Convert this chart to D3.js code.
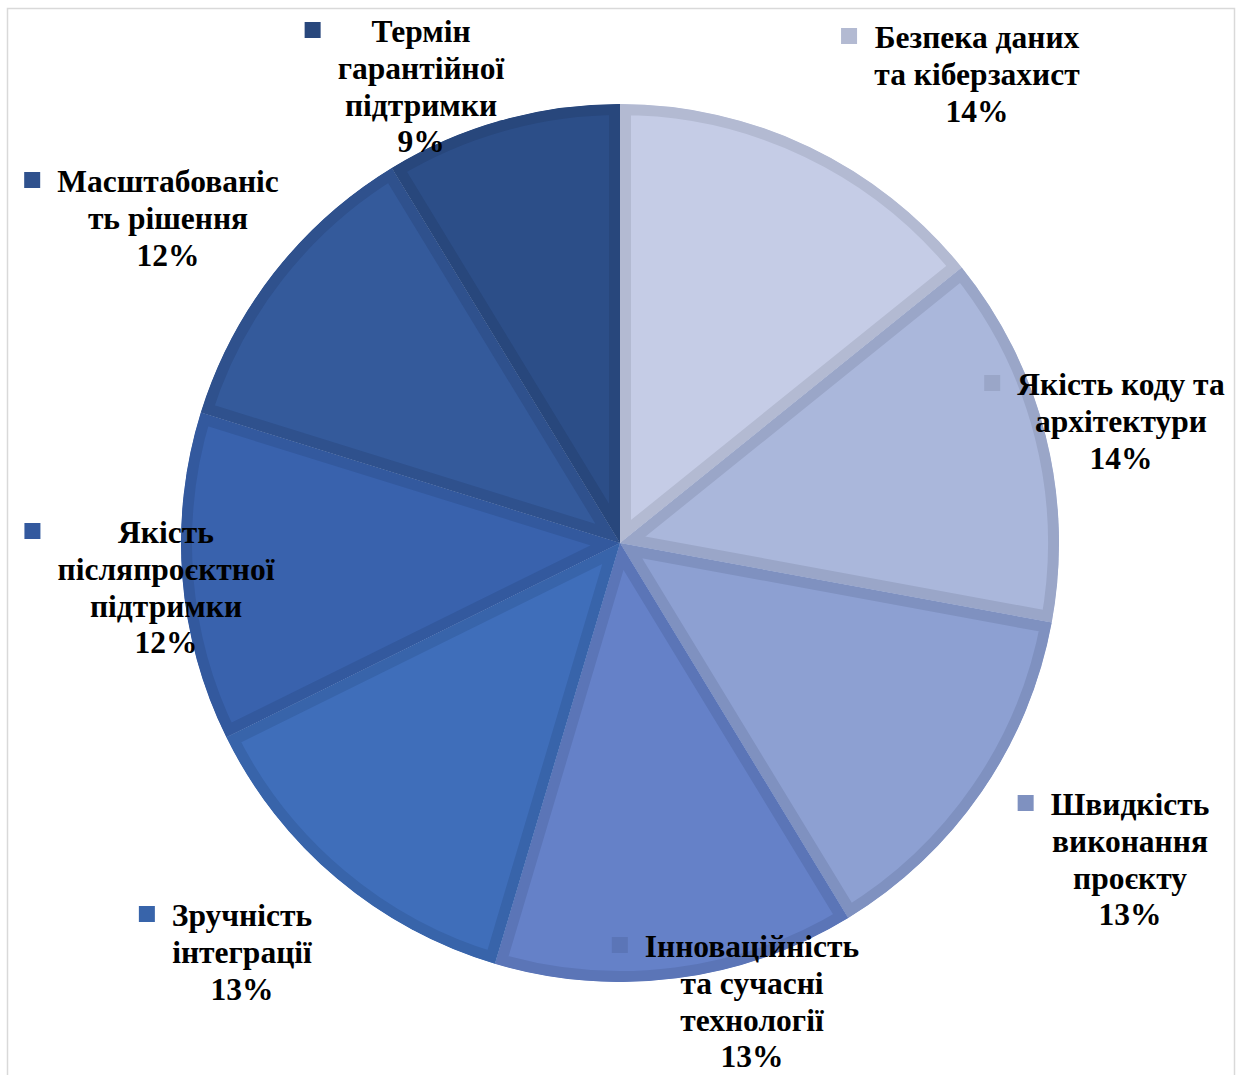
<!DOCTYPE html>
<html>
<head>
<meta charset="utf-8">
<script src="https://cdn.jsdelivr.net/npm/d3@7"></script>
<style>
  body { margin: 0; background: #fff; }
  text { font-family: "Liberation Serif", "Times New Roman", serif; font-weight: bold; }
</style>
</head>
<body>
<div id="chart"></div>
<script>
// data (clockwise from 12 o'clock)
const categories = [
    "Безпека даних та кіберзахист",
    "Якість коду та архітектури",
    "Швидкість виконання проєкту",
    "Інноваційність та сучасні технології",
    "Зручність інтеграції",
    "Якість післяпроєктної підтримки",
    "Масштабованість рішення",
    "Термін гарантійної підтримки"
];
const values = [14.2, 13.7, 13.4, 13.3, 13.1, 12.1, 11.5, 8.7];
const percentLabels = ["14%", "14%", "13%", "13%", "13%", "12%", "12%", "9%"];
// label lines as wrapped in the original
const labelLines = [
    ["Безпека даних", "та кіберзахист"],
    ["Якість коду та", "архітектури"],
    ["Швидкість", "виконання", "проєкту"],
    ["Інноваційність", "та сучасні", "технології"],
    ["Зручність", "інтеграції"],
    ["Якість", "післяпроєктної", "підтримки"],
    ["Масштабованіс", "ть рішення"],
    ["Термін", "гарантійної", "підтримки"]
];

const fills   = ["#c5cce6", "#aab7db", "#8da0d2", "#6581c8", "#3f6eba", "#3962ad", "#345a9b", "#2c4e88"];
const strokes = ["#b3bad2", "#9aa6c8", "#7f91c0", "#5b75b7", "#3864aa", "#33599e", "#2f518d", "#28477c"];

// label block layout: centre x, first baseline y
const labelPos = [
    [977, 48], [1121, 395], [1130, 815], [752, 957],
    [242, 926], [166, 543], [168, 192], [421, 42]
];

const width = 1240, height = 1075;
const cx = 620, cy = 543, radius = 439, edge = 11;
const lineH = 36.8;

const svg = d3.select("#chart")
    .append("svg")
        .attr("width", width)
        .attr("height", height);

// chart area frame
svg.append("rect")
    .attr("x", 7.5)
    .attr("y", 8.5)
    .attr("width", 1227)
    .attr("height", 1080)
    .attr("fill", "#fff")
    .attr("stroke", "#d9d9d9")
    .attr("stroke-width", 1.5);

const pie = d3.pie().sort(null).value(d => d);
const arcs = pie(values);
const arc = d3.arc().innerRadius(0).outerRadius(radius);

const g = svg.append("g")
    .attr("transform", `translate(${cx}, ${cy})`);

const defs = svg.append("defs");
arcs.forEach((a, i) => {
    defs.append("clipPath")
        .attr("id", "slice" + i)
        .append("path")
        .attr("d", arc(a));
});

// slices with an inner border of a darker shade
g.selectAll("path.slice")
    .data(arcs)
    .join("path")
        .attr("class", "slice")
        .attr("d", arc)
        .attr("clip-path", (d, i) => `url(#slice${i})`)
        .attr("fill", (d, i) => fills[i])
        .attr("stroke", (d, i) => strokes[i])
        .attr("stroke-width", edge * 2)
        .attr("stroke-linejoin", "miter");

// labels
const labels = svg.append("g");
categories.forEach((c, i) => {
    const lines = labelLines[i].concat([percentLabels[i]]);
    const [lx, ly] = labelPos[i];
    const t = labels.append("text")
        .attr("text-anchor", "middle")
        .style("font-size", "31.5px")
        .attr("fill", "#000");
    lines.forEach((ln, k) => {
        t.append("tspan")
            .attr("x", lx)
            .attr("y", ly + k * lineH)
            .text(ln);
    });
    const w = t.node().getBBox().width;
    labels.append("rect")
        .attr("x", lx - w / 2 - 33)
        .attr("y", ly - 20)
        .attr("width", 16)
        .attr("height", 16)
        .attr("fill", strokes[i]);
});
</script>
</body>
</html>
